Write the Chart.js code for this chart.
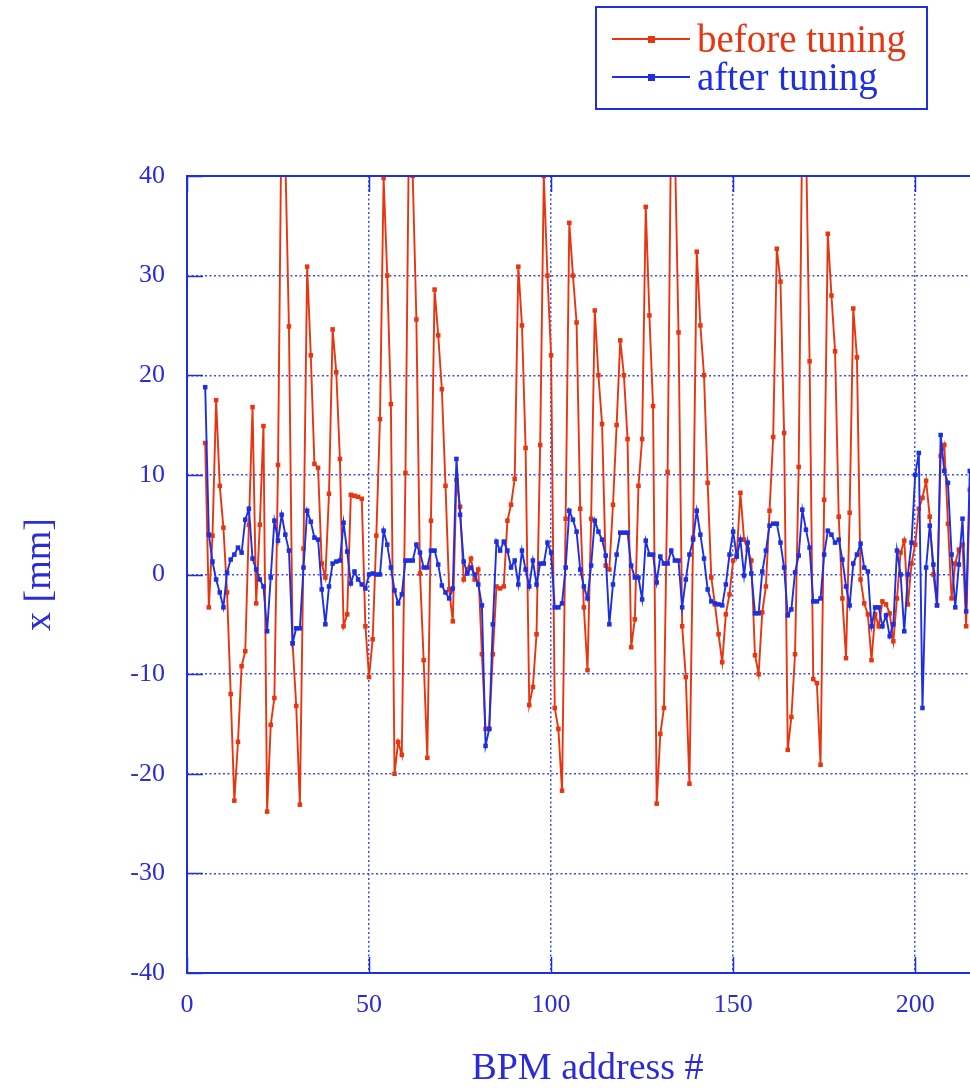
<!DOCTYPE html>
<html lang="en">
<head>
    <meta charset="UTF-8">
    <title>BPM orbit before / after tuning</title>
    <script src="https://cdn.jsdelivr.net/npm/chart.js"></script>
    <style>
        body {
            margin: 0;
            background: #ffffff;
        }
        .frame {
            width: 970px;
            height: 1088px;
            overflow: hidden;
        }
    </style>
</head>
<body>
    <div class="frame">
        <canvas id="orbitChart" width="1010" height="1088"></canvas>
    </div>

    <script>
        // first BPM address in the measurement, one reading per address after that
        const firstAddress = 5;

        // horizontal orbit x [mm], before tuning
        const beforeTuning = [
            13.2, -3.3, 3.9, 17.5, 8.9, 4.7, -1.8, -12, -22.7, -16.8,
            -9.2, -7.7, 5, 16.8, -2.9, 5, 14.9, -23.8, -15.1, -12.4,
            11, 48, 42, 24.9, -6.9, -13.2, -23.1, 2.6, 30.9, 22,
            11.1, 10.7, 1.1, -0.3, 8.1, 24.6, 20.3, 11.6, -5.2, -4,
            8, 7.9, 7.8, 7.6, -5.2, -10.3, -6.5, 3.9, 15.6, 39.8,
            30, 17.1, -20, -16.8, -18.1, 10.2, 46, 40, 25.6, 0.1,
            -8.6, -18.4, 5.4, 28.6, 24, 18.6, 8.9, -1.5, -4.7, 9.5,
            6.8, -0.5, 0.5, 1.6, -0.5, 0.5, -8, -15.5, -15.5, -8,
            -1.2, -1.4, -1.2, 5.4, 7, 9.6, 30.9, 25, 12.7, -13.1,
            -11.3, -6, 13, 40, 30, 22, -13.4, -15.5, -21.7, 5.6,
            35.3, 30, 25.3, 6.6, -3.3, -9.6, 5.6, 26.5, 20, 15.1,
            0.9, 0.5, 7, 15, 23.5, 20, 13.6, -7.3, -4.5, 8.9,
            13.6, 36.9, 26, 16.9, -23, -16, -13.4, 10.3, 47, 43,
            24.3, -5.2, -10.3, -21, 3.7, 32.4, 25, 20, 9.2, -0.3,
            -3, -6, -8.8, -4, -2, 1.4, 2, 8.2, 3.5, 2.5,
            1.4, -8.1, -10, -3.8, -1.2, 6.4, 13.8, 32.7, 29.4, 14.2,
            -17.6, -14.3, -8, 10.8, 46, 44, 21.4, -10.5, -10.9, -19.1,
            7.5, 34.2, 28, 22.4, 5.8, -2.4, -8.4, 6.2, 26.7, 21.8,
            -0.5, -2.9, -4, -8.6, -4, -5.2, -2.7, -3, -3.9, -6.7,
            -2.4, 2.2, 3.4, -3, 1.1, 3, 6.6, 7.7, 9.4, 5.8,
            0, -3.1, 11.9, 13, 5.1, -2.4, 1.1, 2.5, 3, -5.2,
            8.5
        ];

        // horizontal orbit x [mm], after tuning
        const afterTuning = [
            18.8, 4, 1.3, -0.5, -1.8, -3.3, 0.2, 1.5, 2, 2.7,
            2.2, 5.5, 6.6, 1.6, 0.5, -0.5, -1.2, -5.7, -0.3, 5.4,
            3.4, 6, 4, 2.4, -6.9, -5.4, -5.4, 0.7, 6.4, 5.3,
            3.7, 3.5, -1.5, -5, -1.2, 1.1, 1.3, 1.4, 5.2, 2.3,
            -0.9, 0.3, -0.5, -1, -1.4, 0, 0.1, 0, 0, 4.4,
            3, 0.7, -1.6, -2.9, -2, 1.4, 1.4, 1.4, 3, 2.2,
            0.7, 0.7, 2.4, 2.4, 1, -1.1, -1.8, -2.4, -1.4, 11.6,
            6, 1.3, 0.1, 0.7, 0, -1, -3.1, -17.2, -15.5, -5,
            3.3, 2.4, 3.3, 2.4, 0.7, 1.4, -1, 2.4, 0.5, -1.2,
            1.4, -1, 1.1, 1.1, 3.2, 2.2, -3.3, -3.3, -2.9, 0.7,
            6.4, 5.5, 4.3, 0.5, -1.2, -2.4, 0.9, 5.4, 4.3, 3.5,
            1.9, -5, -1, 2, 4.2, 4.2, 4.2, 0.9, -0.3, -0.3,
            -2.5, 3.4, 2, 2, -0.8, 1.8, 1.1, 1.1, 2.4, 1.4,
            1.4, -3.3, -0.5, 2, 3.5, 6.4, 4, 1.6, -1.5, -2.7,
            -2.9, -3, -3.1, -1, 2, 4.3, 1.8, 3.5, -0.1, 3.2,
            0.1, -3.9, -3.9, 0.3, 2.4, 4.9, 5.1, 5.1, 3.2, 0.7,
            -4.1, -3.5, 0.2, 1.9, 6.5, 4.5, 2.7, -2.7, -2.7, -2.4,
            2, 4.4, 4, 3.2, 3.5, 1.5, -1.2, -3.1, 1.1, 2,
            3.1, 0.7, 0.3, -5.2, -3.3, -3.3, -5.2, -4.1, -6.2, -5,
            2.4, 0, -5.7, 0, 3.2, 10, 12.2, -13.4, 0.7, 4.9,
            1, -3.1, 14, 10.4, 9.2, 2, -3.3, 1, 5.6, -3.7,
            10.4
        ];

        const seriesLabels = ['before tuning', 'after tuning'];
        const xTitle = 'BPM address #';
        const yTitle = 'x [mm]';

        const RED = '#e8350f';
        const BLUE = '#1d2fe3';
        const GRID_BLUE = '#3a4cf0';
        const TEXT_BLUE = '#2b2bd9';
        const SERIF = "'Liberation Serif', 'DejaVu Serif', serif";

        function toPoints(values) {
            return values.map((v, i) => ({ x: firstAddress + i, y: v }));
        }

        // solid box round the plot with short inward tick marks, gnuplot style
        const plotFrame = {
            id: 'plotFrame',
            afterDatasetsDraw(chart) {
                const { ctx, chartArea: a, scales } = chart;
                const tick = 16;
                ctx.save();
                ctx.strokeStyle = BLUE;
                ctx.lineWidth = 1.5;
                ctx.beginPath();
                scales.y.ticks.forEach(t => {
                    const py = Math.round(scales.y.getPixelForValue(t.value)) + 0.5;
                    ctx.moveTo(a.left, py); ctx.lineTo(a.left + tick, py);
                    ctx.moveTo(a.right, py); ctx.lineTo(a.right - tick, py);
                });
                scales.x.ticks.forEach(t => {
                    const px = Math.round(scales.x.getPixelForValue(t.value)) + 0.5;
                    ctx.moveTo(px, a.bottom); ctx.lineTo(px, a.bottom - tick);
                    ctx.moveTo(px, a.top); ctx.lineTo(px, a.top + tick);
                });
                ctx.stroke();
                ctx.lineWidth = 2;
                ctx.strokeRect(a.left, a.top, a.right - a.left, a.bottom - a.top);
                ctx.restore();
            }
        };

        // boxed key above the plot: line sample with a point, then the label
        const boxedKey = {
            id: 'boxedKey',
            afterDraw(chart) {
                const { ctx } = chart;
                ctx.save();
                ctx.strokeStyle = BLUE;
                ctx.lineWidth = 2;
                ctx.strokeRect(596, 7, 331, 102);
                ctx.font = '39px ' + SERIF;
                ctx.textBaseline = 'alphabetic';
                chart.data.datasets.forEach((ds, i) => {
                    const y = 39 + i * 38;
                    ctx.strokeStyle = ds.borderColor;
                    ctx.lineWidth = 1.8;
                    ctx.beginPath();
                    ctx.moveTo(612, y);
                    ctx.lineTo(690, y);
                    ctx.stroke();
                    ctx.fillStyle = ds.borderColor;
                    ctx.fillRect(648, y - 3, 7, 7);
                    ctx.fillText(ds.label, 697, y + 13);
                });
                ctx.restore();
            }
        };

        const ctx = document.getElementById('orbitChart').getContext('2d');
        new Chart(ctx, {
            type: 'line',
            data: {
                datasets: [
                    {
                        label: seriesLabels[0],
                        data: toPoints(beforeTuning),
                        borderColor: RED,
                        backgroundColor: RED,
                        borderWidth: 1.9,
                        pointStyle: 'rect',
                        pointRadius: 3.2,
                        pointBorderWidth: 0,
                        tension: 0,
                        order: 1
                    },
                    {
                        label: seriesLabels[1],
                        data: toPoints(afterTuning),
                        borderColor: BLUE,
                        backgroundColor: BLUE,
                        borderWidth: 1.9,
                        pointStyle: 'rect',
                        pointRadius: 3.2,
                        pointBorderWidth: 0,
                        tension: 0,
                        order: 0
                    }
                ]
            },
            options: {
                responsive: false,
                animation: false,
                layout: { padding: { left: 17, top: 176, right: 22, bottom: 0 } },
                plugins: {
                    legend: { display: false },
                    tooltip: { enabled: false }
                },
                scales: {
                    x: {
                        type: 'linear',
                        min: 0,
                        max: 220,
                        afterFit(scale) { scale.height = 115; },
                        afterBuildTicks(scale) {
                            scale.ticks = scale.ticks.filter(t => t.value % 50 === 0);
                        },
                        ticks: {
                            stepSize: 50,
                            color: TEXT_BLUE,
                            font: { family: SERIF, size: 26 },
                            padding: 17,
                            maxRotation: 0
                        },
                        grid: { color: GRID_BLUE, lineWidth: 1.5, drawTicks: false },
                        border: { display: false, dash: [2, 2.5] },
                        title: {
                            display: true,
                            text: xTitle,
                            color: TEXT_BLUE,
                            font: { family: SERIF, size: 38, lineHeight: 1.0 },
                            padding: { top: 0, bottom: 0 }
                        }
                    },
                    y: {
                        min: -40,
                        max: 40,
                        afterFit(scale) { scale.width = 170; },
                        ticks: {
                            stepSize: 10,
                            color: TEXT_BLUE,
                            font: { family: SERIF, size: 26 },
                            padding: 22
                        },
                        grid: { color: GRID_BLUE, lineWidth: 1.5, drawTicks: false },
                        border: { display: false, dash: [2, 2.5] },
                        title: {
                            display: true,
                            text: yTitle,
                            color: TEXT_BLUE,
                            font: { family: SERIF, size: 38 },
                            padding: { top: 0, bottom: 0 }
                        }
                    }
                }
            },
            plugins: [plotFrame, boxedKey]
        });
    </script>
</body>
</html>
